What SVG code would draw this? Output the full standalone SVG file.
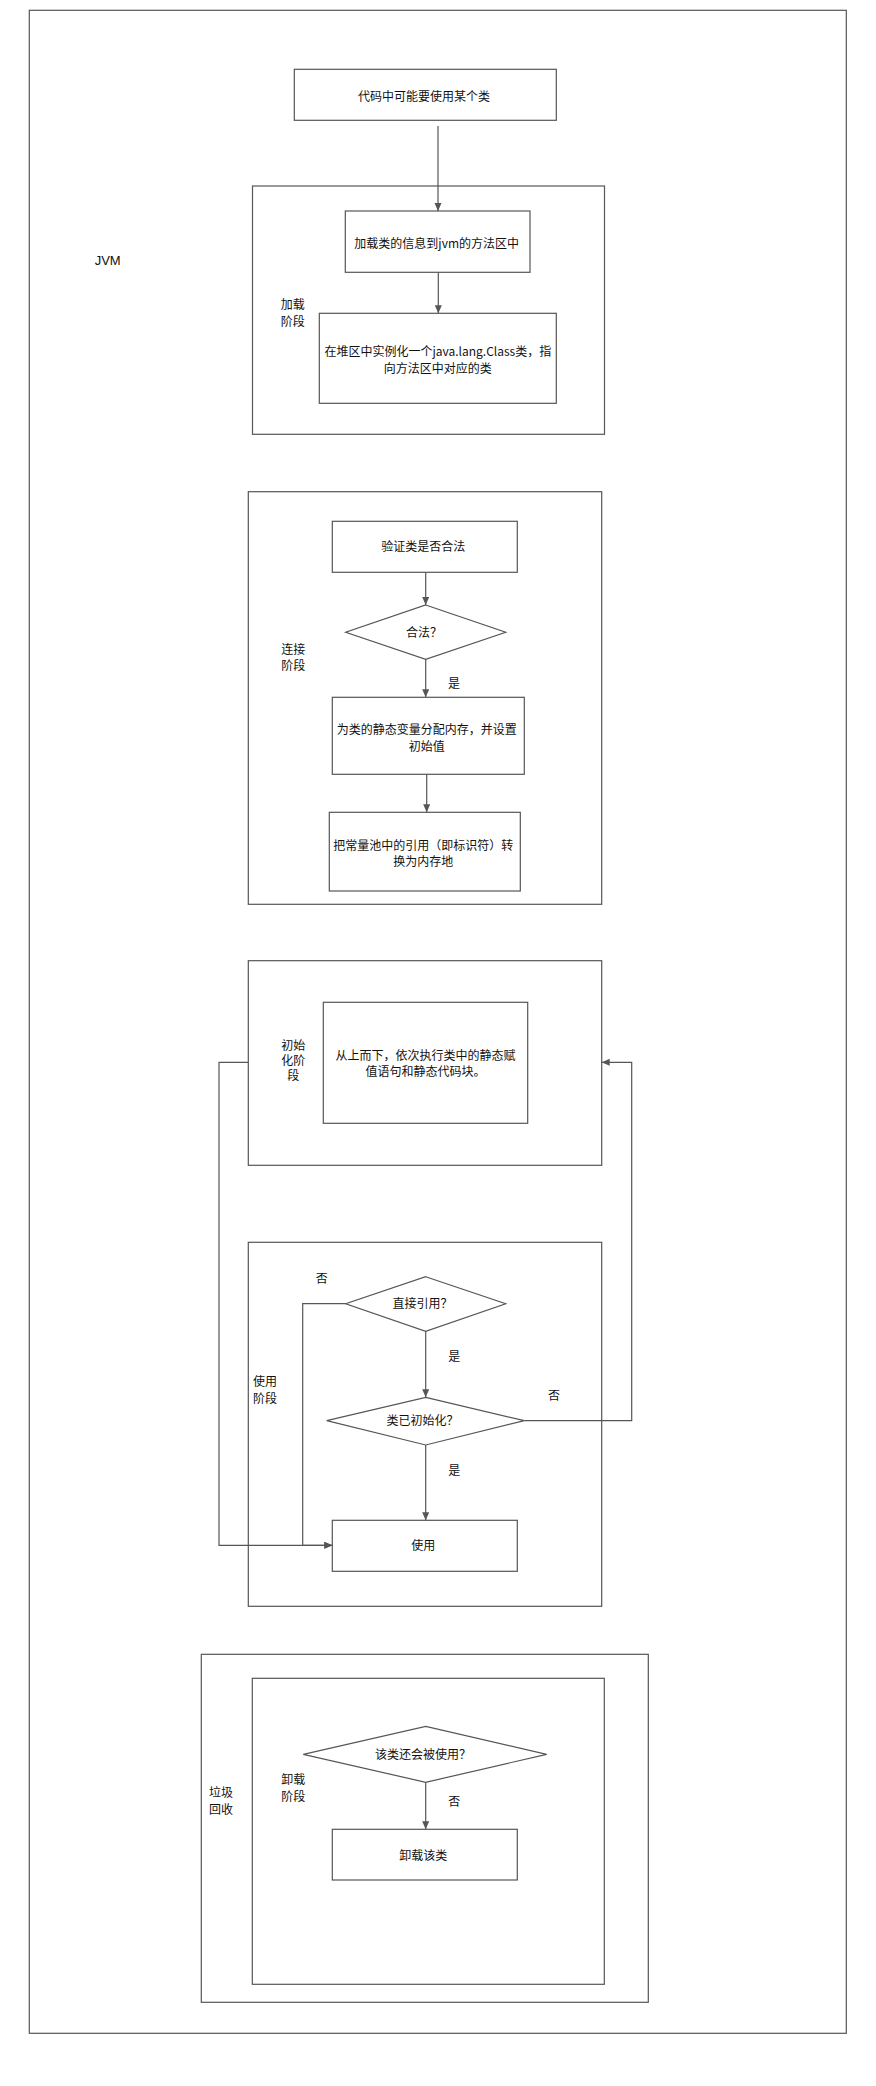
<svg xmlns="http://www.w3.org/2000/svg" width="876" height="2086" viewBox="0 0 876 2086">
<style>
.b{fill:#fff;stroke:#565656;stroke-width:1.2}
.c{fill:none;stroke:#565656;stroke-width:1.2}
text{font-family:"Noto Sans CJK SC","Liberation Sans",sans-serif;font-size:12px;fill:#111;text-anchor:middle}
.en{font-family:"Liberation Sans","Noto Sans",sans-serif;font-size:13px}
</style>
<defs>
<marker id="ah" markerUnits="userSpaceOnUse" markerWidth="8" markerHeight="8" refX="8" refY="3.5" orient="auto">
<path d="M0,0 L8,3.5 L0,7 z" fill="#565656"/>
</marker>
</defs>
<rect x="0" y="0" width="876" height="2086" fill="#fff"/>

<g id="jvm">
<rect class="b" x="29.3" y="10.3" width="817" height="2023"/>
<text class="en" x="107.7" y="264.5">JVM</text>
</g>

<g id="start">
<rect class="b" x="294.3" y="69.3" width="262" height="51"/>
<text x="424" y="101">代码中可能要使用某个类</text>
</g>

<g id="load-stage">
<rect class="b" x="252.5" y="186" width="352" height="248.3"/>
<text x="292.7" y="308.5">加载</text>
<text x="292.7" y="325.5">阶段</text>
</g>
<g id="load-info">
<rect class="b" x="345.3" y="211" width="184.7" height="61.3"/>
<text x="436.7" y="248">加载类的信息到jvm的方法区中</text>
</g>
<g id="instantiate">
<rect class="b" x="319.3" y="313.3" width="237" height="90"/>
<text x="437.8" y="356">在堆区中实例化一个java.lang.Class类，指</text>
<text x="437.8" y="373">向方法区中对应的类</text>
</g>

<g id="link-stage">
<rect class="b" x="248.3" y="491.7" width="353.4" height="412.6"/>
<text x="293.3" y="653.5">连接</text>
<text x="293.3" y="670">阶段</text>
</g>
<g id="verify">
<rect class="b" x="332.3" y="521.3" width="185" height="51"/>
<text x="423.3" y="551">验证类是否合法</text>
</g>
<g id="legal">
<polygon class="b" points="425.7,605 505.7,632.3 425.7,659.3 345.7,632.3"/>
<text x="424" y="637">合法？</text>
</g>
<g id="prepare">
<rect class="b" x="332.3" y="697.3" width="192" height="77"/>
<text x="426.7" y="734">为类的静态变量分配内存，并设置</text>
<text x="426.7" y="750.5">初始值</text>
</g>
<g id="resolve">
<rect class="b" x="329.3" y="812.3" width="191" height="78.7"/>
<text x="423.3" y="850">把常量池中的引用（即标识符）转</text>
<text x="423.3" y="866">换为内存地</text>
</g>

<g id="init-stage">
<rect class="b" x="248.3" y="960.7" width="353.4" height="204.6"/>
<text x="293.3" y="1050">初始</text>
<text x="293.3" y="1065">化阶</text>
<text x="293.3" y="1080">段</text>
</g>
<g id="init">
<rect class="b" x="323.3" y="1002.3" width="204.4" height="121"/>
<text x="425.5" y="1059.5">从上而下，依次执行类中的静态赋</text>
<text x="425.5" y="1075.5">值语句和静态代码块。</text>
</g>

<g id="use-stage">
<rect class="b" x="248.3" y="1242.3" width="353.4" height="364"/>
<text x="265" y="1386">使用</text>
<text x="265" y="1403">阶段</text>
</g>
<g id="direct-ref">
<polygon class="b" points="425.7,1276.7 505.7,1303.7 425.7,1331.3 345.7,1303.7"/>
<text x="422.5" y="1308">直接引用？</text>
</g>
<g id="initialized">
<polygon class="b" points="425.7,1397.3 524.3,1420.7 425.7,1445 326.7,1420.7"/>
<text x="422.5" y="1425">类已初始化？</text>
</g>
<g id="use">
<rect class="b" x="332.3" y="1520.3" width="185" height="51"/>
<text x="423.3" y="1550">使用</text>
</g>

<g id="gc">
<rect class="b" x="201.3" y="1654.3" width="447" height="348"/>
<text x="221" y="1797">垃圾</text>
<text x="221" y="1814">回收</text>
</g>
<g id="unload-stage">
<rect class="b" x="252.3" y="1678.3" width="352" height="306"/>
<text x="293.3" y="1784">卸载</text>
<text x="293.3" y="1800.5">阶段</text>
</g>
<g id="still-used">
<polygon class="b" points="425.7,1726.3 546.7,1754.3 425.7,1782.3 303.3,1754.3"/>
<text x="423" y="1759">该类还会被使用？</text>
</g>
<g id="unload">
<rect class="b" x="332.3" y="1829.3" width="185" height="50.7"/>
<text x="423.3" y="1859.5">卸载该类</text>
</g>

<g id="connectors">
<line class="c" x1="438" y1="126" x2="438" y2="211" marker-end="url(#ah)"/>
<line class="c" x1="438.3" y1="272.3" x2="438.3" y2="313.3" marker-end="url(#ah)"/>
<line class="c" x1="425.7" y1="572.3" x2="425.7" y2="605" marker-end="url(#ah)"/>
<line class="c" x1="425.7" y1="659.3" x2="425.7" y2="697.3" marker-end="url(#ah)"/>
<text x="454" y="688">是</text>
<line class="c" x1="426.7" y1="774.3" x2="426.7" y2="812.3" marker-end="url(#ah)"/>
<polyline class="c" points="345.7,1303.7 302.7,1303.7 302.7,1545.3 332.3,1545.3" marker-end="url(#ah)"/>
<text x="321.7" y="1283">否</text>
<line class="c" x1="425.7" y1="1331.3" x2="425.7" y2="1397.3" marker-end="url(#ah)"/>
<text x="454.3" y="1360.5">是</text>
<polyline class="c" points="524.3,1420.7 631.7,1420.7 631.7,1062.3 601.7,1062.3" marker-end="url(#ah)"/>
<text x="554" y="1400">否</text>
<line class="c" x1="425.7" y1="1445" x2="425.7" y2="1520.3" marker-end="url(#ah)"/>
<text x="454.3" y="1474.5">是</text>
<polyline class="c" points="248.3,1062.3 219,1062.3 219,1545.3 332.3,1545.3" marker-end="url(#ah)"/>
<line class="c" x1="425.7" y1="1782.3" x2="425.7" y2="1829.3" marker-end="url(#ah)"/>
<text x="454.3" y="1806">否</text>
</g>
</svg>
